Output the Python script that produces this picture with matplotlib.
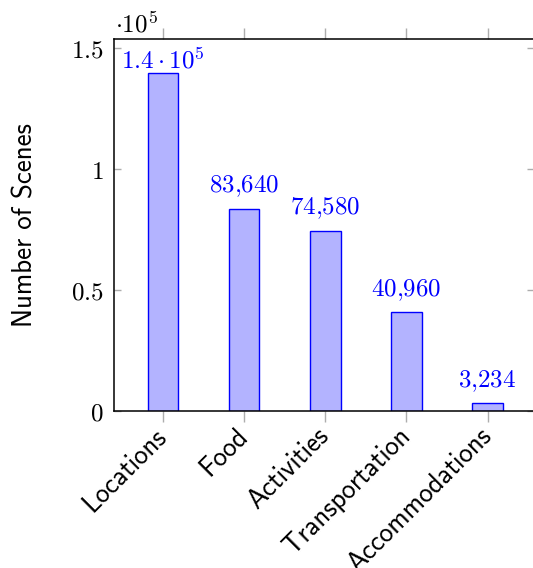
import matplotlib.pyplot as plt
from matplotlib.ticker import FuncFormatter

plt.rcParams['mathtext.fontset'] = 'cm'
plt.rcParams['axes.unicode_minus'] = False

categories = ['Locations', 'Food', 'Activities', 'Transportation', 'Accommodations']
scenes = [139900, 83640, 74580, 40960, 3234]
bar_labels = [r'$1.4\cdot10^5$', '$83{,}640$', '$74{,}580$', '$40{,}960$', '$3{,}234$']
yticks = [0, 50000, 100000, 150000]

fs = 18
fs_sans = 19.4
W, H = 533, 568
fig = plt.figure(figsize=(W / 100, H / 100), dpi=100)
# right spine sits just past the image edge, like the cropped original
ax = fig.add_axes([113.5 / W, 1 - 411.3 / H, (533.5 - 113.5) / W, (411.3 - 39) / H])

x = list(range(len(categories)))
ax.bar(x, scenes, width=0.377, color=(0.7, 0.7, 1.0), edgecolor='blue', linewidth=1.0, zorder=2)

for xi, v, lab in zip(x, scenes, bar_labels):
    if ',' in lab:
        ax.annotate(lab, (xi, v), xytext=(0, 6.8), textcoords='offset points',
                    ha='center', va='bottom', color='blue', fontsize=fs)
    else:
        # the sci-notation one: mathtext box is taller, pin the baseline instead
        ax.annotate(lab, (xi, v), xytext=(0, 3.2), textcoords='offset points',
                    ha='center', va='baseline', color='blue', fontsize=fs)

ax.set_xlim(-0.61, 4.567)
ax.set_ylim(0, 153840)

ax.set_xticks(x)
ax.set_xticklabels(categories, rotation=45, ha='right', va='center',
                   rotation_mode='anchor', family='cmss10', fontsize=fs_sans)
ax.set_yticks(yticks)
ax.yaxis.set_major_formatter(FuncFormatter(lambda v, p: '$%g$' % (v / 1e5)))
for t in ax.get_yticklabels():
    t.set_fontsize(fs)

ax.tick_params(axis='x', direction='out', length=8, width=1, color='0.68',
               top=True, bottom=True, pad=7)
ax.tick_params(axis='y', direction='in', length=5.2, width=1, color='0.68',
               left=True, right=True, pad=7)

for s in ax.spines.values():
    s.set_linewidth(1.1)

ax.set_ylabel('Number of Scenes', family='cmss10', fontsize=fs_sans, labelpad=24)
fig.text(115 / W, 1 - 32 / H, r'$\cdot10^5$', fontsize=fs, ha='left', va='baseline')

fig.savefig('out.png', dpi=100)
